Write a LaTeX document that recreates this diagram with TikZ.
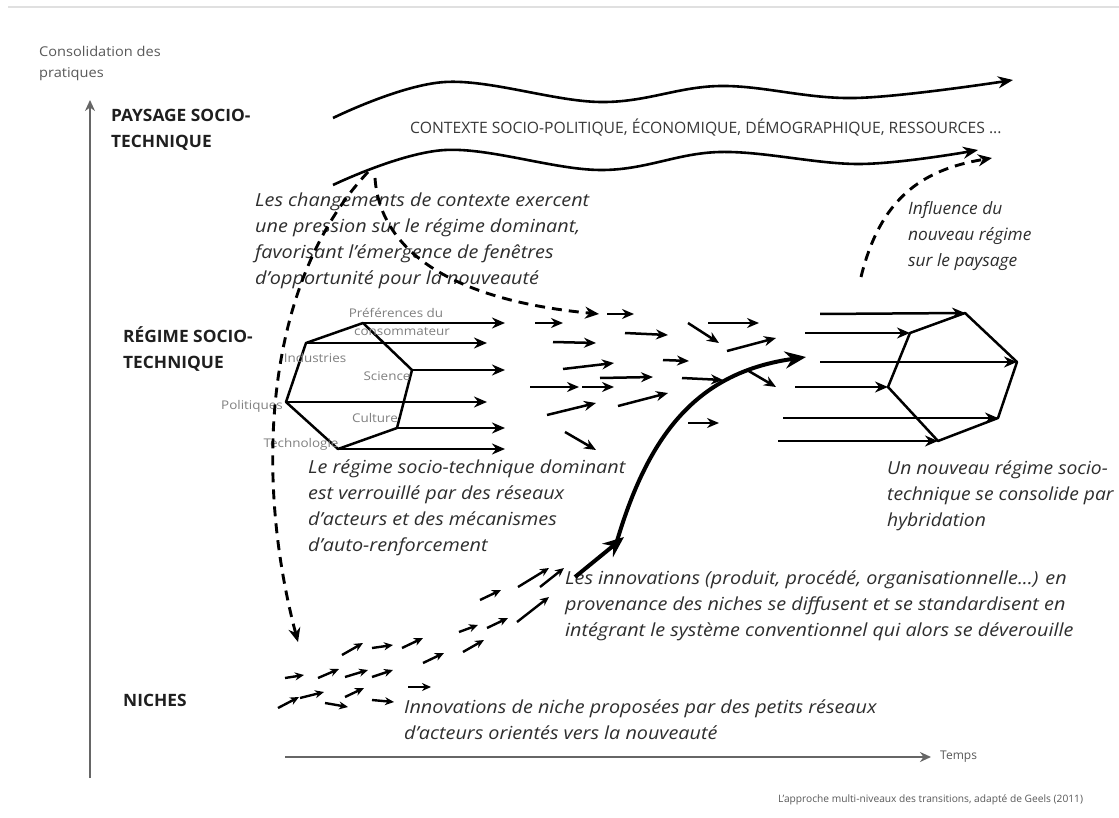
\documentclass[tikz,border=0pt]{standalone}
\usepackage{fontspec}
\setmainfont{Open Sans}
\usetikzlibrary{arrows.meta}
\begin{document}
\begin{tikzpicture}[x=1pt,y=-1pt,
  para/.style={font=\itshape\fontsize{18}{26}\selectfont\addfontfeature{FakeStretch=1.1}, text=black!82, align=left, anchor=west, inner sep=0pt},
  paraB/.style={font=\itshape\fontsize{18}{26}\selectfont\addfontfeature{FakeStretch=1.07}, text=black!82, align=left, anchor=west, inner sep=0pt},
  paraA/.style={font=\itshape\fontsize{17}{26}\selectfont\addfontfeature{FakeStretch=1.02}, text=black!82, align=left, anchor=west, inner sep=0pt},
  lvl/.style={font=\bfseries\fontsize{17}{26}\selectfont\addfontfeature{FakeStretch=1.02}, text=black!88, align=left, anchor=west, inner sep=0pt},
  small/.style={font=\fontsize{13.5}{21}\selectfont\addfontfeature{FakeStretch=1.08}, text=black!65, align=left, anchor=west, inner sep=0pt},
  hexlbl/.style={font=\fontsize{12}{12}\selectfont\addfontfeature{FakeStretch=1.12}, text=black!50, inner sep=0pt},
  hexline/.style={line width=2.5pt, line join=round},
  rarrow/.style={line width=2.5pt, -{Stealth[length=13pt,width=11pt]}},
  marrow/.style={line width=2.5pt, -{Stealth[length=12pt,width=10pt]}},
  narrow/.style={line width=2.4pt, -{Stealth[length=9pt,width=8pt]}},
  dasharr/.style={line width=2.9pt, dash pattern=on 10pt off 7pt, -{Stealth[length=14pt,width=12pt]}},
  wave/.style={line width=2.6pt, -{Stealth[length=15pt,width=12pt]}},
  axis/.style={line width=2.6pt, draw=black!60, -{Stealth[length=11pt,width=10pt]}},
  bigarr/.style={line width=4pt, -{Stealth[length=21pt,width=17pt]}}
]
\useasboundingbox (0,0) rectangle (1119,818);
\fill[white] (0,0) rectangle (1119,818);
\draw[black!12, line width=1.5pt] (8,7) -- (1119,7);

% axes
\coordinate (yaxb) at (90,778);
\coordinate (yaxt) at (90,100);
\coordinate (xaxl) at (285,757);
\coordinate (xaxr) at (931,757);
\draw[axis] (yaxb) -- (yaxt);
\draw[axis] (xaxl) -- (xaxr);
\node[small] (ylab) at (39,63) {Consolidation des\\pratiques};
\node[small, font=\fontsize{12}{14}\selectfont] (xlab) at (940,757) {Temps};
\node[small, font=\fontsize{10.2}{11}\selectfont] (credit) at (778,800) {L'approche multi-niveaux des transitions, adapté de Geels (2011)};

% level labels
\node[lvl] (paysage) at (111,130) {PAYSAGE SOCIO-\\TECHNIQUE};
\node[lvl] (regime) at (123,349) {RÉGIME SOCIO-\\TECHNIQUE};
\node[lvl] (niches) at (123,700) {NICHES};

% landscape waves
\draw[wave] plot[smooth, tension=0.6] coordinates {(333,118) (445,82) (600,102) (720,86) (855,98) (1013,80)};
\draw[wave] plot[smooth, tension=0.6] coordinates {(333,185) (445,150) (600,170) (720,152) (860,164) (978,150)};
\node[font=\fontsize{15.7}{16}\selectfont, text=black!78, anchor=west, inner sep=0pt] (contexte) at (410,128) {CONTEXTE SOCIO-POLITIQUE, ÉCONOMIQUE, DÉMOGRAPHIQUE, RESSOURCES ...};

% texts
\node[para] (t1) at (255,241) {Les changements de contexte exercent\\une pression sur le régime dominant,\\favorisant l'émergence de fenêtres\\d'opportunité pour la nouveauté};
\node[paraA] (t2) at (908,236) {Influence du\\nouveau régime\\sur le paysage};
\node[para] (t3) at (308,508) {Le régime socio-technique dominant\\est verrouillé par des réseaux\\d'acteurs et des mécanismes\\d'auto-renforcement};
\node[paraB] (t4) at (887,496) {Un nouveau régime socio-\\technique se consolide par\\hybridation};
\node[para] (t5) at (565,606) {Les innovations (produit, procédé, organisationnelle...) en\\provenance des niches se diffusent et se standardisent en\\intégrant le système conventionnel qui alors se déverouille};
\node[para] (t6) at (404,720) {Innovations de niche proposées par des petits réseaux\\d'acteurs orientés vers la nouveauté};

% left hexagon
\coordinate (h1) at (363,323);
\coordinate (h2) at (306,343);
\coordinate (h3) at (286,402);
\coordinate (h4) at (338,449);
\coordinate (h5) at (397,428);
\coordinate (h6) at (412,370);
\draw[hexline] (h1) -- (h2) -- (h3) -- (h4) -- (h5) -- (h6) -- cycle;
\coordinate (e1) at (505,323);
\coordinate (e2) at (487,343);
\coordinate (e3) at (487,402);
\coordinate (e4) at (505,449);
\coordinate (e5) at (505,428);
\coordinate (e6) at (505,370);
\foreach \i in {1,...,6} \draw[rarrow] (h\i) -- (e\i);
\node[hexlbl] (l1) at (396,313) {Préférences du};
\node[hexlbl] (l2) at (402,332) {consommateur};
\node[hexlbl] (l3) at (315,358) {Industries};
\node[hexlbl] (l4) at (387,376) {Science};
\node[hexlbl] (l5) at (252,406) {Politiques};
\node[hexlbl] (l6) at (375,418) {Culture};
\node[hexlbl] (l7) at (301,444) {Technologie};

% right hexagon
\coordinate (r1) at (965,313);
\coordinate (r2) at (910,333);
\coordinate (r3) at (888,387);
\coordinate (r4) at (938,441);
\coordinate (r5) at (998,418);
\coordinate (r6) at (1017,362);
\draw[hexline] (r1) -- (r2) -- (r3) -- (r4) -- (r5) -- (r6) -- cycle;
\coordinate (s1) at (820,314);
\coordinate (s2) at (805,333);
\coordinate (s3) at (795,387);
\coordinate (s4) at (778,441);
\coordinate (s5) at (783,418);
\coordinate (s6) at (820,362);
\foreach \i in {1,...,6} \draw[rarrow] (s\i) -- (r\i);

% middle regime arrows
\foreach \a/\b/\c/\d in {607/314/634/314, 535/323/563/323, 625/333/668/335, 688/323/719/343,
  708/323/759/323, 553/342/596/343, 727/351/776/338, 663/360/689/361, 563/369/614/363,
  530/387/579/387, 582/387/614/387, 600/378/653/377, 682/378/723/380, 747/370/776/387,
  547/415/596/403, 618/406/668/393, 688/423/719/423, 565/432/596/450}
  \draw[marrow] (\a,\b) -- (\c,\d);

% niche arrows
\foreach \a/\b/\c/\d in {278/708/299/697, 300/698/324/692, 325/703/348/707, 345/697/364/688,
  372/700/394/702, 408/687/431/687, 285/678/304/675, 318/678/339/669, 345/677/368/670,
  372/677/393/670, 342/655/363/643, 372/648/393/645, 402/648/423/638, 423/663/444/653,
  463/652/484/640, 459/632/478/625, 487/628/508/618, 480/600/501/590, 517/622/549/597,
  518/587/549/568, 540/587/564/568}
  \draw[narrow] (\a,\b) -- (\c,\d);

% big arrows
\coordinate (b0) at (575,577);
\coordinate (b1) at (624,537);
\coordinate (b2) at (806,357);
\draw[bigarr] (b0) -- (b1);
\draw[bigarr] (617,541) .. controls (650,430) and (700,372) .. (b2);

% dashed arrows
\coordinate (d1s) at (368,172);
\coordinate (d1e) at (298,642);
\draw[dasharr] (d1s) .. controls (262,285) and (255,480) .. (d1e);
\coordinate (d2s) at (375,178);
\coordinate (d2e) at (599,314);
\draw[dasharr] (d2s) .. controls (380,250) and (450,300) .. (d2e);
\coordinate (d3s) at (861,277);
\coordinate (d3e) at (992,158);
\draw[dasharr] (d3s) .. controls (880,200) and (920,170) .. (d3e);
\end{tikzpicture}
\end{document}
